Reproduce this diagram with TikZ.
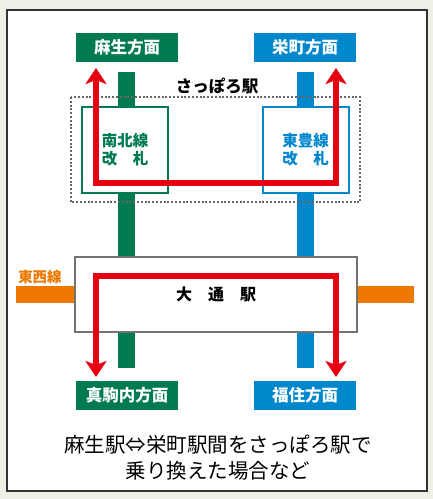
\documentclass[tikz,border=0pt]{standalone}
\usepackage{fontspec}
\setmainfont{Noto Sans CJK JP}
\usetikzlibrary{arrows.meta}
\definecolor{namboku}{HTML}{007A50}
\definecolor{toho}{HTML}{0087CC}
\definecolor{tozai}{HTML}{EE7700}
\definecolor{route}{HTML}{E60012}
\definecolor{paper}{HTML}{EDF1E5}
\tikzset{
  dirbox/.style={fill=#1,text=white,font=\bfseries\fontsize{16.5}{16.5}\selectfont,minimum width=102pt,minimum height=29pt,inner sep=0pt},
  gatebox/.style={draw=#1,line width=2pt,fill=white,text=#1,minimum width=86pt,minimum height=86pt,align=left,font=\bfseries\fontsize{15.5}{18}\selectfont},
  track/.style={draw=#1,line width=17pt},
  transfer/.style={draw=route,line width=6pt,{Stealth[length=16pt,width=21pt,inset=4pt]}-{Stealth[length=16pt,width=21pt,inset=4pt]}}
}
\begin{document}
\begin{tikzpicture}[x=1pt,y=-1pt]
\useasboundingbox (0,0) rectangle (433,499);
\fill[paper] (0,0) rectangle (433,499);
\draw[fill=white,draw=black!80,line width=1.5pt] (7,10) rectangle (427,491);
% lines
\draw[track=namboku] (126.5,72)--(126.5,368);\draw[track=toho] (305.5,72)--(305.5,368);
\draw[track=tozai] (16,294.5)--(414,294.5);
\node[font=\bfseries\fontsize{14.5}{14.5}\selectfont,text=tozai] (tozailabel) at (40,277) {東西線};
% さっぽろ駅
\draw[black!60,line width=2pt,dash pattern=on 2pt off 1.8pt] (71,97) rectangle (360,202);
\node[font=\bfseries\fontsize{16.5}{16.5}\selectfont] (sapporo) at (217,86) {さっぽろ駅};
\node[gatebox=namboku] (nambokugate) at (125,150) {南北線\\改　札};
\node[gatebox=toho] (tohogate) at (305.5,150) {東豊線\\改　札};
% 大通駅
\node[draw=black!55,line width=2pt,fill=white,minimum width=282pt,minimum height=75pt,font=\bfseries\fontsize{16}{16}\selectfont] (odori) at (216,294.5) {大　通　駅};
% directions
\foreach \n/\c/\x/\y/\t in {asabu/namboku/127/47.5/麻生方面,sakaemachi/toho/305/47.5/栄町方面,makomanai/namboku/127/395/真駒内方面,fukuzumi/toho/305/395/福住方面}{\node[dirbox=\c] (\n) at (\x,\y) {\t};}
% transfer routes
\foreach \n/\x/\y in {ta/96/68,tb/96/183,tc/336/183,td/336/68,ba/96/377,bb/96/276,bc/336/276,bd/336/377}{\coordinate (\n) at (\x,\y);}
\draw[transfer] (ta)--(tb)--(tc)--(td);
\draw[transfer] (ba)--(bb)--(bc)--(bd);
\node[align=center,font=\fontsize{20.5}{26}\selectfont] (caption) at (218,458) {麻生駅⇔栄町駅間をさっぽろ駅で\\乗り換えた場合など};
\end{tikzpicture}
\end{document}
